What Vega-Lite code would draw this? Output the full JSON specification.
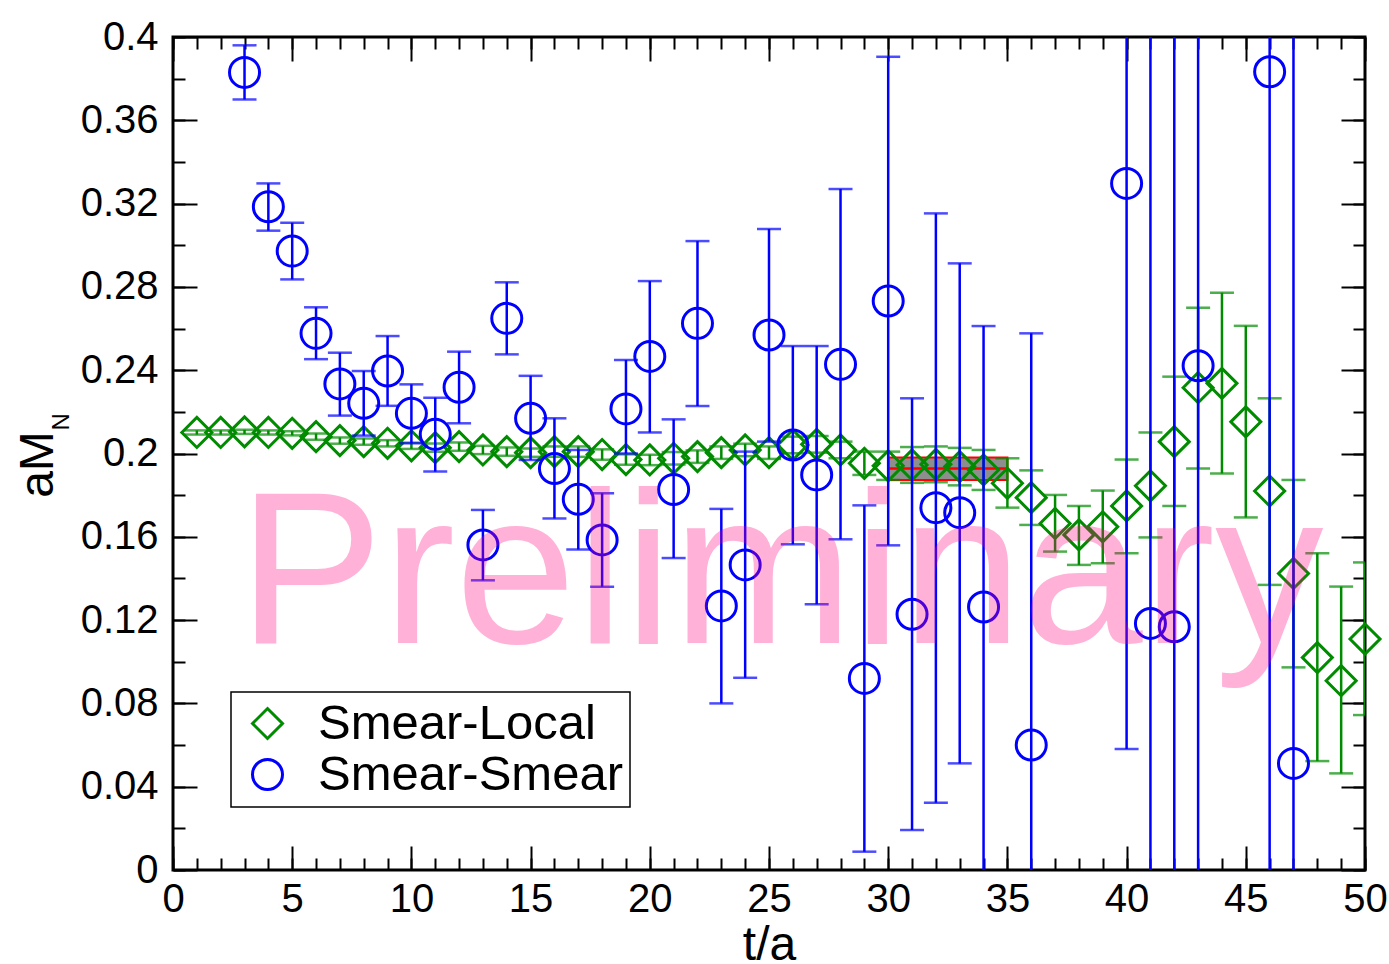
{
  "$schema": "https://vega.github.io/schema/vega-lite/v6.json",
  "width": 1192,
  "height": 833,
  "autosize": {"type": "none"},
  "padding": {"left": 173, "top": 37, "right": 24, "bottom": 94},
  "background": "white",
  "config": {
    "view": {"stroke": "black", "strokeWidth": 3},
    "font": "Liberation Sans",
    "axis": {
      "grid": false, "domain": false,
      "labelFont": "Liberation Sans", "labelFontSize": 40, "labelColor": "black",
      "tickColor": "black", "tickWidth": 2,
      "titleFont": "Liberation Sans", "titleFontWeight": "normal", "titleColor": "black",
      "labelFlush": false, "labelOverlap": false
    },
    "legend": {
      "orient": "none", "legendX": 58, "legendY": 655,
      "strokeColor": "black", "strokeWidth": 1.5, "fillColor": "white",
      "padding": 7, "labelFont": "Liberation Sans", "labelFontSize": 49, "labelColor": "black",
      "symbolSize": 900, "symbolStrokeWidth": 3, "symbolOffset": 5, "labelOffset": 26,
      "rowPadding": 1, "labelLimit": 1000,
      "labelExpr": "datum.label + '\u00a0'"
    }
  },
  "datasets": {
    "pts": [
      {"series": "Smear-Local", "t": 1, "y": 0.2101, "lo": 0.2091, "hi": 0.2111},
      {"series": "Smear-Local", "t": 2, "y": 0.2101, "lo": 0.2091, "hi": 0.2111},
      {"series": "Smear-Local", "t": 3, "y": 0.2104, "lo": 0.2094, "hi": 0.2114},
      {"series": "Smear-Local", "t": 4, "y": 0.2101, "lo": 0.2091, "hi": 0.2111},
      {"series": "Smear-Local", "t": 5, "y": 0.2097, "lo": 0.2087, "hi": 0.2107},
      {"series": "Smear-Local", "t": 6, "y": 0.2081, "lo": 0.2066, "hi": 0.2096},
      {"series": "Smear-Local", "t": 7, "y": 0.2062, "lo": 0.2047, "hi": 0.2077},
      {"series": "Smear-Local", "t": 8, "y": 0.2057, "lo": 0.2042, "hi": 0.2072},
      {"series": "Smear-Local", "t": 9, "y": 0.2049, "lo": 0.2034, "hi": 0.2064},
      {"series": "Smear-Local", "t": 10, "y": 0.2037, "lo": 0.2022, "hi": 0.2052},
      {"series": "Smear-Local", "t": 11, "y": 0.2028, "lo": 0.2008, "hi": 0.2048},
      {"series": "Smear-Local", "t": 12, "y": 0.2033, "lo": 0.2013, "hi": 0.2053},
      {"series": "Smear-Local", "t": 13, "y": 0.2017, "lo": 0.1997, "hi": 0.2037},
      {"series": "Smear-Local", "t": 14, "y": 0.2009, "lo": 0.1989, "hi": 0.2029},
      {"series": "Smear-Local", "t": 15, "y": 0.2004, "lo": 0.1984, "hi": 0.2024},
      {"series": "Smear-Local", "t": 16, "y": 0.2009, "lo": 0.1984, "hi": 0.2034},
      {"series": "Smear-Local", "t": 17, "y": 0.2009, "lo": 0.1984, "hi": 0.2034},
      {"series": "Smear-Local", "t": 18, "y": 0.1995, "lo": 0.1970, "hi": 0.2020},
      {"series": "Smear-Local", "t": 19, "y": 0.1971, "lo": 0.1946, "hi": 0.1996},
      {"series": "Smear-Local", "t": 20, "y": 0.1969, "lo": 0.1944, "hi": 0.1994},
      {"series": "Smear-Local", "t": 21, "y": 0.1977, "lo": 0.1947, "hi": 0.2007},
      {"series": "Smear-Local", "t": 22, "y": 0.1985, "lo": 0.1955, "hi": 0.2015},
      {"series": "Smear-Local", "t": 23, "y": 0.2004, "lo": 0.1974, "hi": 0.2034},
      {"series": "Smear-Local", "t": 24, "y": 0.2017, "lo": 0.1987, "hi": 0.2047},
      {"series": "Smear-Local", "t": 25, "y": 0.2004, "lo": 0.1974, "hi": 0.2034},
      {"series": "Smear-Local", "t": 26, "y": 0.2041, "lo": 0.2001, "hi": 0.2081},
      {"series": "Smear-Local", "t": 27, "y": 0.2044, "lo": 0.2004, "hi": 0.2084},
      {"series": "Smear-Local", "t": 28, "y": 0.2017, "lo": 0.1977, "hi": 0.2057},
      {"series": "Smear-Local", "t": 29, "y": 0.1953, "lo": 0.1897, "hi": 0.2009},
      {"series": "Smear-Local", "t": 30, "y": 0.1941, "lo": 0.1873, "hi": 0.2009},
      {"series": "Smear-Local", "t": 31, "y": 0.1945, "lo": 0.1859, "hi": 0.2031},
      {"series": "Smear-Local", "t": 32, "y": 0.1948, "lo": 0.1862, "hi": 0.2034},
      {"series": "Smear-Local", "t": 33, "y": 0.1937, "lo": 0.1847, "hi": 0.2027},
      {"series": "Smear-Local", "t": 34, "y": 0.1921, "lo": 0.1825, "hi": 0.2017},
      {"series": "Smear-Local", "t": 35, "y": 0.1857, "lo": 0.1740, "hi": 0.1977},
      {"series": "Smear-Local", "t": 36, "y": 0.1788, "lo": 0.1657, "hi": 0.1919},
      {"series": "Smear-Local", "t": 37, "y": 0.1664, "lo": 0.1529, "hi": 0.1801},
      {"series": "Smear-Local", "t": 38, "y": 0.1609, "lo": 0.1465, "hi": 0.1748},
      {"series": "Smear-Local", "t": 39, "y": 0.1648, "lo": 0.1473, "hi": 0.1822},
      {"series": "Smear-Local", "t": 40, "y": 0.1748, "lo": 0.1521, "hi": 0.1971},
      {"series": "Smear-Local", "t": 41, "y": 0.1845, "lo": 0.1597, "hi": 0.2101},
      {"series": "Smear-Local", "t": 42, "y": 0.2057, "lo": 0.1748, "hi": 0.2369},
      {"series": "Smear-Local", "t": 43, "y": 0.2316, "lo": 0.1928, "hi": 0.2700},
      {"series": "Smear-Local", "t": 44, "y": 0.2337, "lo": 0.1904, "hi": 0.2772},
      {"series": "Smear-Local", "t": 45, "y": 0.2152, "lo": 0.1693, "hi": 0.2613},
      {"series": "Smear-Local", "t": 46, "y": 0.1820, "lo": 0.1369, "hi": 0.2265},
      {"series": "Smear-Local", "t": 47, "y": 0.1424, "lo": 0.0973, "hi": 0.1873},
      {"series": "Smear-Local", "t": 48, "y": 0.1020, "lo": 0.0523, "hi": 0.1521},
      {"series": "Smear-Local", "t": 49, "y": 0.0909, "lo": 0.0464, "hi": 0.1361},
      {"series": "Smear-Local", "t": 50, "y": 0.1109, "lo": 0.0744, "hi": 0.1477},
      {"series": "Smear-Smear", "t": 3, "y": 0.3830, "lo": 0.3700, "hi": 0.3960},
      {"series": "Smear-Smear", "t": 4, "y": 0.3185, "lo": 0.3070, "hi": 0.3297},
      {"series": "Smear-Smear", "t": 5, "y": 0.2972, "lo": 0.2836, "hi": 0.3108},
      {"series": "Smear-Smear", "t": 6, "y": 0.2577, "lo": 0.2453, "hi": 0.2702},
      {"series": "Smear-Smear", "t": 7, "y": 0.2334, "lo": 0.2182, "hi": 0.2484},
      {"series": "Smear-Smear", "t": 8, "y": 0.2241, "lo": 0.2086, "hi": 0.2396},
      {"series": "Smear-Smear", "t": 9, "y": 0.2396, "lo": 0.2229, "hi": 0.2564},
      {"series": "Smear-Smear", "t": 10, "y": 0.2193, "lo": 0.2049, "hi": 0.2332},
      {"series": "Smear-Smear", "t": 11, "y": 0.2092, "lo": 0.1913, "hi": 0.2268},
      {"series": "Smear-Smear", "t": 12, "y": 0.2318, "lo": 0.2145, "hi": 0.2489},
      {"series": "Smear-Smear", "t": 13, "y": 0.1561, "lo": 0.1391, "hi": 0.1729},
      {"series": "Smear-Smear", "t": 14, "y": 0.2649, "lo": 0.2476, "hi": 0.2822},
      {"series": "Smear-Smear", "t": 15, "y": 0.2169, "lo": 0.1969, "hi": 0.2373},
      {"series": "Smear-Smear", "t": 16, "y": 0.1928, "lo": 0.1688, "hi": 0.2169},
      {"series": "Smear-Smear", "t": 17, "y": 0.1780, "lo": 0.1539, "hi": 0.2017},
      {"series": "Smear-Smear", "t": 18, "y": 0.1585, "lo": 0.1360, "hi": 0.1809},
      {"series": "Smear-Smear", "t": 19, "y": 0.2214, "lo": 0.2000, "hi": 0.2449},
      {"series": "Smear-Smear", "t": 20, "y": 0.2466, "lo": 0.2101, "hi": 0.2828},
      {"series": "Smear-Smear", "t": 21, "y": 0.1827, "lo": 0.1498, "hi": 0.2164},
      {"series": "Smear-Smear", "t": 22, "y": 0.2625, "lo": 0.2228, "hi": 0.3020},
      {"series": "Smear-Smear", "t": 23, "y": 0.1268, "lo": 0.0800, "hi": 0.1734},
      {"series": "Smear-Smear", "t": 24, "y": 0.1465, "lo": 0.0923, "hi": 0.2009},
      {"series": "Smear-Smear", "t": 25, "y": 0.2569, "lo": 0.2057, "hi": 0.3078},
      {"series": "Smear-Smear", "t": 26, "y": 0.2041, "lo": 0.1564, "hi": 0.2516},
      {"series": "Smear-Smear", "t": 27, "y": 0.1897, "lo": 0.1276, "hi": 0.2516},
      {"series": "Smear-Smear", "t": 28, "y": 0.2428, "lo": 0.1588, "hi": 0.3270},
      {"series": "Smear-Smear", "t": 29, "y": 0.0920, "lo": 0.0088, "hi": 0.1751},
      {"series": "Smear-Smear", "t": 30, "y": 0.2732, "lo": 0.1559, "hi": 0.3905},
      {"series": "Smear-Smear", "t": 31, "y": 0.1228, "lo": 0.0192, "hi": 0.2265},
      {"series": "Smear-Smear", "t": 32, "y": 0.1740, "lo": 0.0323, "hi": 0.3153},
      {"series": "Smear-Smear", "t": 33, "y": 0.1716, "lo": 0.0512, "hi": 0.2913},
      {"series": "Smear-Smear", "t": 34, "y": 0.1263, "lo": -0.0086, "hi": 0.2612},
      {"series": "Smear-Smear", "t": 36, "y": 0.0600, "lo": -0.1380, "hi": 0.2577},
      {"series": "Smear-Smear", "t": 40, "y": 0.3297, "lo": 0.0581, "hi": 0.6013},
      {"series": "Smear-Smear", "t": 41, "y": 0.1184, "lo": -0.3500, "hi": 0.5900},
      {"series": "Smear-Smear", "t": 42, "y": 0.1168, "lo": -0.4000, "hi": 0.6300},
      {"series": "Smear-Smear", "t": 43, "y": 0.2421, "lo": -0.3000, "hi": 0.7800},
      {"series": "Smear-Smear", "t": 46, "y": 0.3833, "lo": -0.5000, "hi": 1.2700},
      {"series": "Smear-Smear", "t": 47, "y": 0.0512, "lo": -0.6000, "hi": 0.7000}
    ],
    "band": [
      {"t0": 30, "t1": 35, "lo": 0.1873, "hi": 0.1981, "mid": 0.1928}
    ]
  },
  "layer": [
    {
      "data": {"name": "band"},
      "mark": {"type": "rect", "fill": "#7a7a7a", "fillOpacity": 0.85, "stroke": "#ff0000", "strokeWidth": 2},
      "encoding": {
        "x": {"field": "t0", "type": "quantitative", "scale": {"domain": [0, 50], "nice": false, "zero": false},
          "axis": {"orient": "bottom", "values": [0, 5, 10, 15, 20, 25, 30, 35, 40, 45, 50], "format": "d", "tickSize": -24, "labelPadding": 33,
            "title": "t/a", "titleFontSize": 48, "titleY": 89, "titleBaseline": "alphabetic"}},
        "x2": {"field": "t1"},
        "y": {"field": "lo", "type": "quantitative", "scale": {"domain": [0, 0.4], "nice": false, "zero": false},
          "axis": {"orient": "left", "values": [0, 0.04, 0.08, 0.12, 0.16, 0.2, 0.24, 0.28, 0.32, 0.36, 0.4], "format": "~g", "tickSize": -24, "labelPadding": 39,
            "title": "aM", "titleFontSize": 48, "titleX": -121, "titleY": 427, "titleAngle": -90, "titleAlign": "center", "titleBaseline": "alphabetic"}},
        "y2": {"field": "hi"}
      }
    },
    {
      "data": {"name": "band"},
      "mark": {"type": "rule", "color": "#ff0000", "strokeWidth": 2.5},
      "encoding": {
        "x": {"field": "t0", "type": "quantitative", "scale": {"domain": [0, 50], "nice": false, "zero": false},
          "axis": {"orient": "bottom", "values": [0,1,2,3,4,5,6,7,8,9,10,11,12,13,14,15,16,17,18,19,20,21,22,23,24,25,26,27,28,29,30,31,32,33,34,35,36,37,38,39,40,41,42,43,44,45,46,47,48,49,50], "tickSize": -12, "labels": false, "title": null}},
        "x2": {"field": "t1"},
        "y": {"field": "mid", "type": "quantitative", "scale": {"domain": [0, 0.4], "nice": false, "zero": false},
          "axis": {"orient": "left", "values": [0, 0.02, 0.04, 0.06, 0.08, 0.1, 0.12, 0.14, 0.16, 0.18, 0.2, 0.22, 0.24, 0.26, 0.28, 0.3, 0.32, 0.34, 0.36, 0.38, 0.4], "tickSize": -12, "labels": false, "title": null}}
      }
    },
    {
      "data": {"name": "pts"},
      "transform": [{"filter": "datum.series === 'Smear-Local'"}],
      "mark": {"type": "errorbar", "ticks": {"size": 24}, "thickness": 2.5, "color": "#008B00", "clip": true},
      "encoding": {
        "x": {"field": "t", "type": "quantitative", "scale": {"domain": [0, 50], "nice": false, "zero": false}, "axis": null},
        "y": {"field": "lo", "type": "quantitative", "scale": {"domain": [0, 0.4], "nice": false, "zero": false}, "axis": null},
        "y2": {"field": "hi"}
      }
    },
    {
      "data": {"name": "pts"},
      "transform": [{"filter": "datum.series === 'Smear-Local'"}],
      "mark": {"type": "point", "filled": false, "size": 900, "strokeWidth": 3, "opacity": 1},
      "encoding": {
        "x": {"field": "t", "type": "quantitative", "scale": {"domain": [0, 50], "nice": false, "zero": false},
          "axis": {"orient": "top", "values": [0, 5, 10, 15, 20, 25, 30, 35, 40, 45, 50], "tickSize": -24, "labels": false, "title": null}},
        "y": {"field": "y", "type": "quantitative", "scale": {"domain": [0, 0.4], "nice": false, "zero": false},
          "axis": {"orient": "right", "values": [0, 0.04, 0.08, 0.12, 0.16, 0.2, 0.24, 0.28, 0.32, 0.36, 0.4], "tickSize": -24, "labels": false, "title": null}},
        "color": {"field": "series", "type": "nominal", "scale": {"domain": ["Smear-Local", "Smear-Smear"], "range": ["#008B00", "#0000FF"]}, "title": null},
        "shape": {"field": "series", "type": "nominal", "scale": {"domain": ["Smear-Local", "Smear-Smear"], "range": ["diamond", "circle"]}, "title": null}
      }
    },
    {
      "data": {"name": "pts"},
      "transform": [{"filter": "datum.series === 'Smear-Smear'"}],
      "mark": {"type": "errorbar", "ticks": {"size": 24}, "thickness": 2.5, "color": "#0000FF", "clip": true},
      "encoding": {
        "x": {"field": "t", "type": "quantitative", "scale": {"domain": [0, 50], "nice": false, "zero": false}, "axis": null},
        "y": {"field": "lo", "type": "quantitative", "scale": {"domain": [0, 0.4], "nice": false, "zero": false}, "axis": null},
        "y2": {"field": "hi"}
      }
    },
    {
      "data": {"name": "pts"},
      "transform": [{"filter": "datum.series === 'Smear-Smear'"}],
      "mark": {"type": "point", "filled": false, "size": 900, "strokeWidth": 3, "opacity": 1},
      "encoding": {
        "x": {"field": "t", "type": "quantitative", "scale": {"domain": [0, 50], "nice": false, "zero": false},
          "axis": {"orient": "top", "values": [0,1,2,3,4,5,6,7,8,9,10,11,12,13,14,15,16,17,18,19,20,21,22,23,24,25,26,27,28,29,30,31,32,33,34,35,36,37,38,39,40,41,42,43,44,45,46,47,48,49,50], "tickSize": -12, "labels": false, "title": null}},
        "y": {"field": "y", "type": "quantitative", "scale": {"domain": [0, 0.4], "nice": false, "zero": false},
          "axis": {"orient": "right", "values": [0, 0.02, 0.04, 0.06, 0.08, 0.1, 0.12, 0.14, 0.16, 0.18, 0.2, 0.22, 0.24, 0.26, 0.28, 0.3, 0.32, 0.34, 0.36, 0.38, 0.4], "tickSize": -12, "labels": false, "title": null}},
        "color": {"field": "series", "type": "nominal", "scale": {"domain": ["Smear-Local", "Smear-Smear"], "range": ["#008B00", "#0000FF"]}, "title": null},
        "shape": {"field": "series", "type": "nominal", "scale": {"domain": ["Smear-Local", "Smear-Smear"], "range": ["diamond", "circle"]}, "title": null}
      }
    },
    {
      "data": {"values": [{}]},
      "mark": {"type": "text", "text": "Preliminary", "font": "Liberation Sans", "fontSize": 217, "color": "#ff0080", "opacity": 0.3, "align": "center", "baseline": "alphabetic"},
      "encoding": {
        "x": {"datum": 25.5, "type": "quantitative", "scale": {"domain": [0, 50], "nice": false, "zero": false}, "axis": null},
        "y": {"datum": 0.1091, "type": "quantitative", "scale": {"domain": [0, 0.4], "nice": false, "zero": false},
          "axis": {"orient": "left", "values": [], "ticks": false, "labels": false, "domain": false,
            "title": "N", "titleFontSize": 24, "titleX": -105, "titleY": 393, "titleAngle": -90, "titleAlign": "left", "titleBaseline": "alphabetic"}}
      }
    }
  ],
  "resolve": {"axis": {"x": "independent", "y": "independent"}}
}
